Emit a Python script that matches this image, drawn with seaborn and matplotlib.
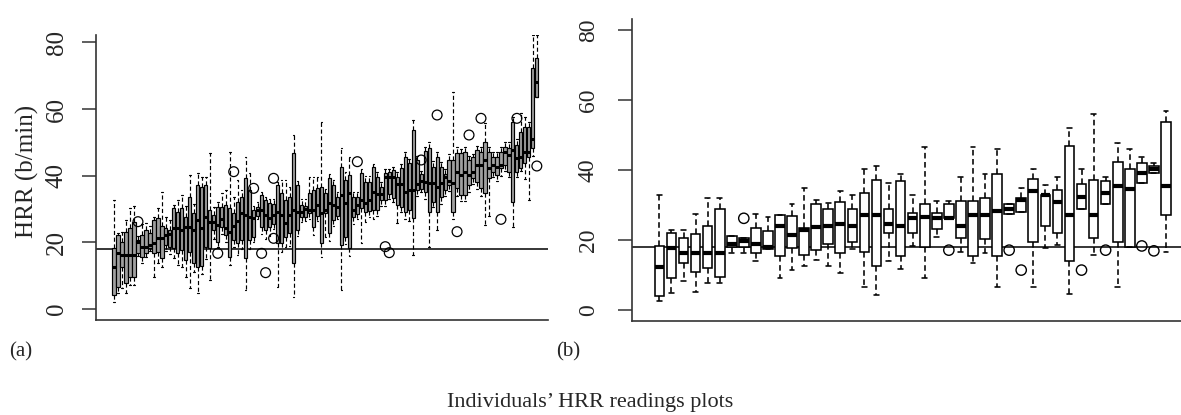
import matplotlib
matplotlib.use('Agg')
import matplotlib.pyplot as plt
import seaborn as sns
import pandas as pd
import numpy as np

# panel (a): one box per person -> whisker low, Q1, median, Q3, whisker high
a_lo = [2.2, 4.8, 6.2, 4.8, 7.2, 7.2, 16.0, 13.7, 15.5, 17.5,
        9.7, 13.7, 12.7, 17.5, 16.5, 15.2, 13.2, 12.7, 9.7, 6.2,
        11.0, 4.7, 10.5, 15.0, 8.7, 21.0, 18.5, 22.5, 20.0, 13.2,
        18.5, 16.2, 18.0, 5.7, 18.0, 20.0, 27.0, 22.5, 21.0, 22.0,
        24.0, 6.7, 17.0, 18.5, 19.0, 3.7, 22.0, 26.0, 26.5, 27.0,
        22.2, 26.5, 15.7, 21.7, 20.5, 25.0, 27.0, 5.7, 19.5, 16.0,
        25.5, 27.0, 19.7, 26.0, 27.5, 27.0, 28.0, 31.0, 31.0, 33.0,
        32.0, 25.7, 29.0, 27.0, 26.5, 16.2, 34.0, 35.0, 33.0, 18.7,
        30.5, 23.7, 31.5, 34.0, 35.5, 27.0, 34.0, 32.5, 32.5, 35.0,
        37.5, 36.0, 34.0, 25.2, 28.0, 39.5, 38.5, 40.0, 41.5, 39.5,
        24.7, 39.5, 41.5, 39.0, 32.7, 46.0, 63.7]
a_q1 = [4.2, 6.7, 12.7, 7.7, 9.7, 9.7, 16.7, 15.7, 16.7, 18.2,
        16.7, 17.2, 15.2, 19.2, 18.7, 18.2, 16.7, 17.7, 14.7, 17.2,
        13.7, 12.7, 13.0, 18.7, 18.2, 23.7, 20.2, 24.7, 22.2, 15.7,
        20.7, 19.7, 20.7, 15.2, 20.7, 21.7, 28.0, 24.7, 23.7, 24.7,
        25.5, 19.7, 19.7, 21.7, 22.7, 13.7, 23.7, 27.5, 27.5, 28.7,
        24.7, 28.0, 19.7, 28.7, 22.7, 26.7, 28.0, 19.2, 21.7, 18.2,
        27.7, 28.5, 30.2, 29.0, 29.5, 29.7, 29.7, 32.7, 32.7, 34.5,
        33.2, 31.2, 30.7, 29.2, 29.7, 27.2, 35.7, 36.0, 35.0, 29.2,
        32.2, 29.2, 33.5, 35.7, 37.2, 29.2, 36.2, 34.2, 34.2, 37.2,
        39.2, 38.2, 36.2, 34.7, 39.2, 41.0, 40.2, 42.2, 43.2, 41.2,
        32.2, 41.2, 42.2, 43.7, 45.7, 48.2, 63.7]
a_med = [12.7, 16.7, 16.2, 16.2, 16.2, 16.2, 20.2, 18.7, 18.7, 19.2,
         19.7, 21.2, 21.2, 22.2, 22.5, 24.2, 24.2, 23.7, 24.7, 24.7,
         23.7, 26.7, 24.2, 27.7, 26.2, 26.2, 25.2, 27.0, 24.2, 23.2,
         25.0, 26.5, 28.7, 28.2, 27.7, 27.2, 29.7, 29.7, 28.2, 27.2,
         28.2, 29.2, 28.2, 25.7, 28.2, 29.7, 29.2, 29.2, 30.0, 29.7,
         29.7, 31.2, 28.7, 29.7, 31.7, 31.2, 30.5, 34.2, 31.7, 34.7,
         29.7, 31.2, 32.7, 31.7, 32.7, 35.2, 34.5, 34.5, 39.7, 39.7,
         39.7, 37.5, 37.5, 35.2, 35.7, 35.7, 37.5, 38.5, 38.0, 37.7,
         37.7, 36.7, 37.7, 39.7, 38.5, 37.7, 41.2, 40.2, 41.2, 40.2,
         41.2, 43.2, 43.2, 44.7, 42.2, 43.2, 42.7, 43.2, 47.2, 46.2,
         47.7, 45.2, 45.7, 47.2, 47.2, 51.0, 68.2]
a_q3 = [18.2, 22.2, 20.2, 23.2, 24.2, 26.2, 20.7, 22.2, 23.7, 22.7,
        26.7, 27.2, 24.9, 24.2, 23.7, 30.2, 29.2, 30.2, 27.7, 33.7,
        28.7, 37.2, 36.7, 37.2, 29.7, 28.2, 30.7, 30.7, 31.2, 30.2,
        28.7, 32.2, 33.7, 39.2, 35.7, 29.7, 30.7, 34.2, 32.7, 31.7,
        31.5, 37.2, 34.7, 32.7, 33.7, 46.7, 37.2, 31.2, 31.0, 34.7,
        35.7, 36.2, 36.7, 34.7, 39.2, 37.2, 33.7, 42.7, 38.7, 40.2,
        33.7, 33.5, 40.7, 38.2, 38.2, 42.7, 39.7, 36.7, 40.7, 41.2,
        41.7, 39.7, 42.2, 45.7, 43.7, 53.7, 44.7, 40.5, 47.5, 48.2,
        42.7, 45.7, 42.7, 40.5, 44.7, 44.7, 46.7, 46.7, 47.2, 44.7,
        45.7, 47.7, 47.2, 50.2, 47.2, 45.7, 45.7, 47.2, 48.7, 48.2,
        56.2, 49.2, 53.2, 54.7, 54.7, 72.2, 75.2]
a_hi = [32.7, 22.7, 23.2, 26.7, 30.2, 30.9, 22.0, 25.5, 25.7, 25.0,
        27.7, 30.2, 35.2, 27.7, 26.7, 31.2, 32.7, 34.2, 31.0, 40.2,
        31.5, 40.7, 39.7, 39.5, 46.7, 30.7, 32.0, 34.7, 35.7, 47.2,
        33.7, 38.7, 35.7, 45.7, 40.7, 31.0, 32.0, 35.0, 33.5, 33.0,
        33.0, 38.0, 38.7, 38.7, 36.7, 52.2, 38.5, 33.0, 33.0, 39.7,
        39.7, 39.7, 56.2, 36.0, 40.5, 38.7, 35.0, 48.2, 41.0, 45.7,
        35.0, 35.0, 42.0, 40.0, 40.0, 43.5, 41.0, 38.0, 42.0, 42.0,
        42.5, 41.0, 43.5, 47.0, 45.0, 56.7, 46.0, 41.5, 48.5, 50.2,
        44.5, 47.0, 44.0, 42.0, 46.5, 65.2, 48.5, 48.0, 48.5, 46.0,
        46.5, 49.0, 48.5, 55.7, 48.5, 47.0, 47.0, 48.5, 50.2, 50.0,
        57.7, 51.0, 58.7, 57.5, 56.0, 82.2, 82.2]
# outliers in panel (a): person number (1-based) and value
a_out_person = [7, 27, 31, 36, 38, 39, 41, 41, 62, 69, 70, 78, 82, 87, 90, 93, 98, 102, 107]
a_out_value = [26.2, 16.7, 41.2, 36.2, 16.7, 10.9, 39.2, 21.2, 44.2, 18.7, 16.9, 44.7, 58.2,
               23.2, 52.2, 57.2, 26.9, 57.2, 42.9]

# panel (b)
b_lo = [2.6, 4.8, 8.3, 5.2, 7.6, 7.6, 16.4, 16.4, 14.0, 17.4,
        9.2, 11.4, 12.5, 14.3, 12.7, 10.7, 17.3, 6.7, 4.3, 14.0,
        11.6, 18.4, 9.2, 21.0, 26.0, 16.5, 13.3, 16.2, 6.7, 27.4,
        27.9, 6.5, 17.6, 18.6, 4.5, 29.0, 15.7, 30.3, 6.5, 17.9,
        36.2, 39.2, 16.7]
b_q1 = [4.1, 9.2, 13.3, 11.0, 11.9, 9.3, 18.1, 18.1, 16.2, 17.4,
        15.4, 17.6, 15.6, 17.1, 19.0, 16.2, 19.5, 16.7, 12.7, 22.1,
        15.4, 22.1, 18.1, 23.1, 26.2, 20.5, 15.4, 20.2, 15.4, 27.4,
        27.9, 19.3, 24.0, 22.1, 14.0, 29.0, 20.5, 30.3, 19.3, 18.1,
        36.2, 39.2, 27.1]
b_med = [12.4, 17.8, 16.2, 16.2, 16.2, 16.2, 19.0, 19.7, 18.9, 18.1,
         24.1, 21.4, 22.8, 23.8, 24.0, 24.6, 24.0, 27.1, 27.1, 24.5,
         24.0, 26.2, 26.5, 26.4, 26.4, 24.0, 27.1, 27.1, 28.4, 28.8,
         31.3, 34.1, 33.0, 31.0, 27.1, 32.4, 27.1, 33.3, 35.4, 34.6,
         39.2, 40.3, 35.4]
b_q3 = [18.3, 22.1, 20.5, 21.6, 24.0, 29.0, 21.2, 20.7, 23.5, 22.6,
        27.1, 27.0, 23.5, 30.2, 28.9, 30.8, 28.9, 33.5, 37.1, 28.9,
        37.0, 27.8, 30.2, 27.8, 30.2, 31.1, 31.1, 32.1, 38.9, 30.2,
        31.9, 37.4, 33.0, 34.3, 46.9, 36.0, 37.1, 37.0, 42.4, 40.2,
        42.1, 41.1, 53.8]
b_hi = [33.0, 23.0, 23.0, 27.3, 32.1, 32.1, 21.2, 20.7, 27.3, 26.7,
        27.1, 30.2, 34.9, 31.4, 30.5, 34.0, 33.0, 40.2, 41.1, 36.2,
        38.9, 33.0, 46.7, 31.1, 31.1, 37.9, 46.7, 38.9, 46.0, 30.2,
        35.0, 40.2, 35.7, 37.9, 51.9, 40.2, 55.9, 37.9, 47.6, 45.9,
        43.6, 42.0, 57.0]
b_out_person = [8, 25, 30, 31, 36, 38, 41, 42]
b_out_value = [26.2, 17.1, 17.1, 11.4, 11.4, 17.1, 18.3, 16.9]

ref_line = 18
y_ticks = [0, 20, 40, 60, 80]


def long_frame(lo, q1, med, q3, hi):
    rows = []
    for i, vals in enumerate(zip(lo, q1, med, q3, hi)):
        for v in vals:
            rows.append({'person': i + 1, 'hrr': v})
    return pd.DataFrame(rows)


df_a = long_frame(a_lo, a_q1, a_med, a_q3, a_hi)
df_b = long_frame(b_lo, b_q1, b_med, b_q3, b_hi)

sns.set_style('ticks')
plt.rcParams['font.family'] = ['Liberation Serif', 'DejaVu Serif']

W, H = 1181, 415
fig = plt.figure(figsize=(W / 100, H / 100), dpi=100)
ax_a = fig.add_axes([95.7 / W, (H - 320) / H, (548 - 95.7) / W, (320 - 35) / H])
ax_b = fig.add_axes([632 / W, (H - 321.2) / H, (1185 - 632) / W, (321.2 - 18.8) / H])

dash = (0, (3.5, 2.2))
sns.boxplot(data=df_a, x='person', y='hrr', ax=ax_a, whis=(0, 100), width=0.8,
            color='#a0a0a0', saturation=1, linecolor='black', linewidth=0.85,
            showfliers=False, whiskerprops=dict(linestyle=dash),
            medianprops=dict(linewidth=2.2))
sns.boxplot(data=df_b, x='person', y='hrr', ax=ax_b, whis=(0, 100), width=0.8,
            color='white', saturation=1, linecolor='black', linewidth=1.15,
            showfliers=False, whiskerprops=dict(linestyle=dash),
            medianprops=dict(linewidth=3.0))

sns.scatterplot(x=np.array(a_out_person) - 1, y=a_out_value, ax=ax_a, marker='o', s=50,
                facecolors='none', edgecolor='black', linewidth=0.9, zorder=5)
sns.scatterplot(x=np.array(b_out_person) - 1, y=b_out_value, ax=ax_b, marker='o', s=55,
                facecolors='none', edgecolor='black', linewidth=1.0, zorder=5)

for ax, xlim, ylim, fs, pad in [(ax_a, (-4.6, 108.8), (-3.3, 82.2), 18, 10),
                                 (ax_b, (-2.27, 43.58), (-3.2, 83.2), 17, 14)]:
    ax.axhline(ref_line, color='black', linewidth=1.1, zorder=1)
    ax.set_xlim(*xlim)
    ax.set_ylim(*ylim)
    ax.set_xticks([])
    ax.set_xlabel('')
    ax.set_ylabel('')
    ax.set_yticks(y_ticks)
    ax.tick_params(axis='y', direction='out', length=10, width=1.1, labelsize=fs,
                   pad=pad, labelrotation=90, color='#333333')
    for lab in ax.get_yticklabels():
        lab.set_va('center')
    for s in ['top', 'right']:
        ax.spines[s].set_visible(False)
    for s in ['left', 'bottom']:
        ax.spines[s].set_linewidth(1.2)
        ax.spines[s].set_color('#333333')

ax_a.set_ylabel('HRR (b/min)', fontsize=18)
ax_a.yaxis.set_label_coords(-0.125, 0.523)

fig.text(21 / W, 1 - 352 / H, '(a)', fontsize=15, ha='center', va='center')
fig.text(568 / W, 1 - 352 / H, '(b)', fontsize=15, ha='center', va='center')
fig.text(0.5, 1 - 402 / H, 'Individuals’ HRR readings plots', fontsize=16,
         ha='center', va='center')

fig.savefig('out.png', dpi=100)
